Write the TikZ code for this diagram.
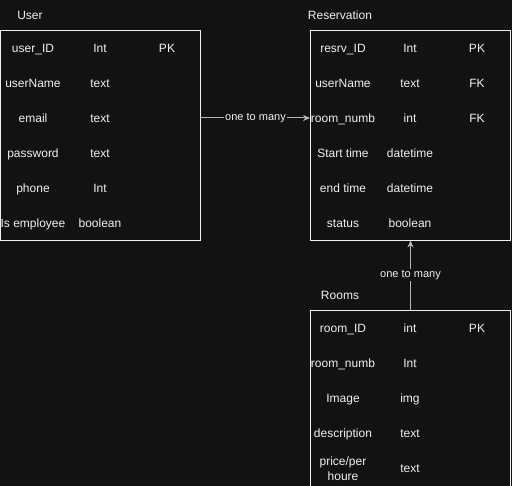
\documentclass[tikz,border=0pt]{standalone}
\usepackage{fontspec}
\setmainfont{Liberation Sans}
\usetikzlibrary{arrows.meta}
\definecolor{canvas}{HTML}{121212}
\definecolor{ink}{HTML}{F0F0F0}
\definecolor{wire}{HTML}{B8B8B8}

\begin{document}
\begin{tikzpicture}[
  x=1pt,y=-1pt,
  tablebox/.style={draw=ink,line width=0.9pt,inner sep=0pt,minimum width=200pt},
  title/.style={text=ink,font=\fontsize{12}{14}\selectfont,inner sep=1pt,text height=8.6pt,text depth=0pt},
  field/.style={text=ink,font=\fontsize{12}{15}\selectfont,inner sep=1pt,align=center,text height=8.6pt,text depth=0pt},
  rel/.style={draw=wire,line width=1pt,-{Stealth[length=7pt,width=6pt]}},
  card/.style={fill=canvas,text=ink,font=\fontsize{11}{13}\selectfont,inner sep=1pt,text height=8pt,text depth=2pt}
]
  \useasboundingbox (0,0) rectangle (512,486);
  \clip (0,0) rectangle (512,486);
  \fill[canvas] (0,0) rectangle (512,486);

  % User table
  \node[title] (tuser) at (30,15) {User};
  \node[tablebox,minimum height=210pt] (user) at (100.5,135) {};
  \node[field] (u1a) at (33,48) {user\_ID};
  \node[field] (u1b) at (100,48) {Int};
  \node[field] (u1c) at (167,48) {PK};
  \node[field] (u2a) at (33,83) {userName};
  \node[field] (u2b) at (100,83) {text};
  \node[field] (u3a) at (33,118) {email};
  \node[field] (u3b) at (100,118) {text};
  \node[field] (u4a) at (33,153) {password};
  \node[field] (u4b) at (100,153) {text};
  \node[field] (u5a) at (33,188) {phone};
  \node[field] (u5b) at (100,188) {Int};
  \node[field] (u6a) at (33,223) {Is employee};
  \node[field] (u6b) at (100,223) {boolean};

  % Reservation table
  \node[title] (tresv) at (340,15) {Reservation};
  \node[tablebox,minimum height=210pt] (resv) at (410.5,135) {};
  \node[field] (r1a) at (343,48) {resrv\_ID};
  \node[field] (r1b) at (410,48) {Int};
  \node[field] (r1c) at (477,48) {PK};
  \node[field] (r2a) at (343,83) {userName};
  \node[field] (r2b) at (410,83) {text};
  \node[field] (r2c) at (477,83) {FK};
  \node[field] (r3a) at (343,118) {room\_numb};
  \node[field] (r3b) at (410,118) {int};
  \node[field] (r3c) at (477,118) {FK};
  \node[field] (r4a) at (343,153) {Start time};
  \node[field] (r4b) at (410,153) {datetime};
  \node[field] (r5a) at (343,188) {end time};
  \node[field] (r5b) at (410,188) {datetime};
  \node[field] (r6a) at (343,223) {status};
  \node[field] (r6b) at (410,223) {boolean};

  % Rooms table
  \node[title] (trooms) at (340,295) {Rooms};
  \node[tablebox,minimum height=185pt] (rooms) at (410.5,402.5) {};
  \node[field] (m1a) at (343,328) {room\_ID};
  \node[field] (m1b) at (410,328) {int};
  \node[field] (m1c) at (477,328) {PK};
  \node[field] (m2a) at (343,363) {room\_numb};
  \node[field] (m2b) at (410,363) {Int};
  \node[field] (m3a) at (343,398) {Image};
  \node[field] (m3b) at (410,398) {img};
  \node[field] (m4a) at (343,433) {description};
  \node[field] (m4b) at (410,433) {text};
  \node[field] (m5a) at (343,476) {price/per\\houre};
  \node[field] (m5b) at (410,468) {text};

  % relations
  \draw[rel] (user.east |- u3a) -- node[card] (c1) {one to many} (resv.west |- r3a);
  \draw[rel] (rooms.north) -- node[card,pos=0.5] (c2) {one to many} (resv.south);
\end{tikzpicture}
\end{document}
